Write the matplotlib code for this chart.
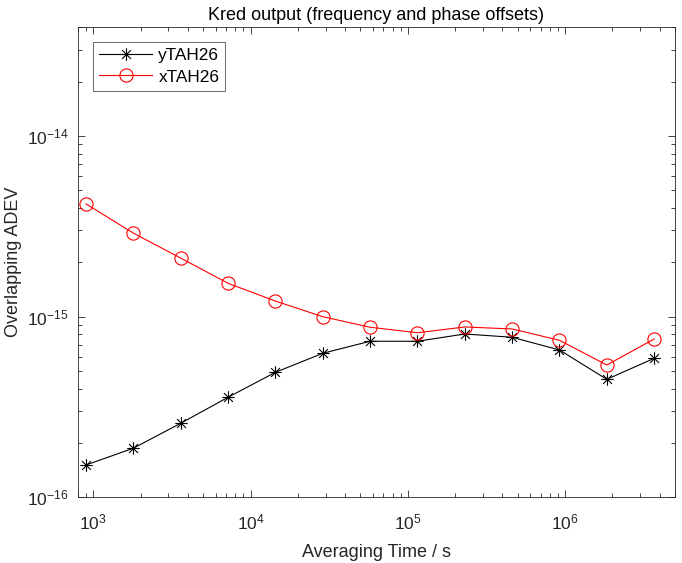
import numpy as np
import matplotlib
matplotlib.use("Agg")
import matplotlib.pyplot as plt
from matplotlib.path import Path
from matplotlib.ticker import LogLocator, NullFormatter

plt.rcParams['font.family'] = ['Liberation Sans', 'DejaVu Sans']
plt.rcParams['mathtext.fontset'] = 'custom'
plt.rcParams['mathtext.rm'] = 'Liberation Sans'
plt.rcParams['mathtext.it'] = 'Liberation Sans'

# Data
tau = [900, 1800, 3600, 7200, 14400, 28800, 57600, 115200, 230400,
       460800, 921600, 1843200, 3686400]
yTAH26 = [1.51e-16, 1.87e-16, 2.57e-16, 3.58e-16, 4.92e-16, 6.27e-16,
          7.31e-16, 7.31e-16, 8.02e-16, 7.69e-16, 6.54e-16, 4.50e-16, 5.88e-16]
xTAH26 = [4.21e-15, 2.90e-15, 2.11e-15, 1.53e-15, 1.22e-15, 1.00e-15,
          8.74e-16, 8.15e-16, 8.77e-16, 8.55e-16, 7.40e-16, 5.40e-16, 7.52e-16]
series_labels = ['yTAH26', 'xTAH26']
title = 'Kred output (frequency and phase offsets)'
xlabel = 'Averaging Time / s'
ylabel = 'Overlapping ADEV'

# MATLAB-like asterisk marker
s = np.sqrt(0.5)
verts = [(0, -1), (0, 1), (-1, 0), (1, 0), (-s, -s), (s, s), (-s, s), (s, -s)]
codes = [Path.MOVETO, Path.LINETO] * 4
asterisk = Path(verts, codes)

fig = plt.figure(figsize=(6.82, 5.63), dpi=100)
ax = fig.add_axes([0.1144, 0.1167, 0.8753, 0.8348])

axc = (0.15, 0.15, 0.15)
ax.loglog(tau, yTAH26, color='black', linewidth=0.8, marker=asterisk,
          markersize=9, markeredgewidth=0.8, markerfacecolor='none',
          label=series_labels[0])
ax.loglog(tau, xTAH26, color='red', linewidth=0.8, marker='o',
          markersize=9.5, markeredgewidth=0.8, markerfacecolor='none',
          label=series_labels[1])

ax.set_xlim(800, 5e6)
ax.set_ylim(1e-16, 4e-14)

ax.xaxis.set_major_locator(LogLocator(base=10, numticks=20))
ax.yaxis.set_major_locator(LogLocator(base=10, numticks=20))
ax.xaxis.set_minor_locator(LogLocator(base=10, subs=np.arange(2, 10), numticks=50))
ax.yaxis.set_minor_locator(LogLocator(base=10, subs=np.arange(2, 10), numticks=50))
ax.xaxis.set_minor_formatter(NullFormatter())
ax.yaxis.set_minor_formatter(NullFormatter())

ax.tick_params(which='both', direction='in', top=True, right=True,
               colors=axc, labelcolor=axc, width=0.6)
ax.tick_params(which='major', length=5, labelsize=12.5)
ax.tick_params(axis='x', which='major', pad=11)
ax.tick_params(axis='y', which='major', pad=7)
ax.tick_params(which='minor', length=3)
for sp in ax.spines.values():
    sp.set_color(axc)
    sp.set_linewidth(0.6)

ax.set_title(title, fontsize=13, color='black', pad=5)
ax.set_xlabel(xlabel, fontsize=13, color=axc, labelpad=8)
ax.set_ylabel(ylabel, fontsize=13, color=axc, labelpad=3)

leg = ax.legend(loc='upper left', bbox_to_anchor=(0.025, 0.968), fontsize=12.4,
                frameon=True, fancybox=False, handlelength=3.1,
                borderpad=0.35, labelspacing=0.35, handletextpad=0.35,
                borderaxespad=0)
leg.get_frame().set_edgecolor(axc)
leg.get_frame().set_linewidth(0.6)

fig.savefig('out.png', dpi=100)
